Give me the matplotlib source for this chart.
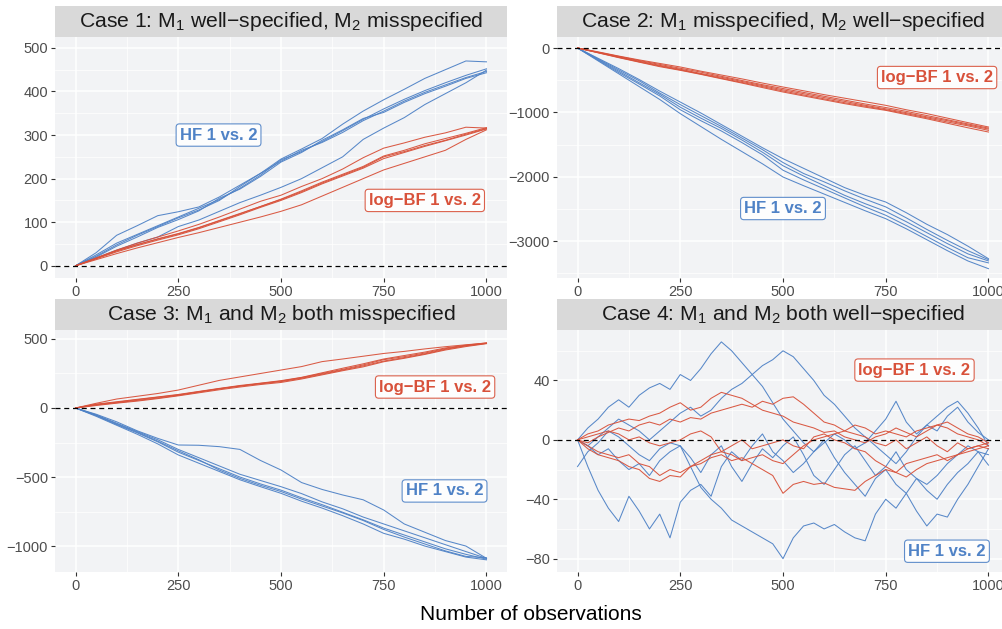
import matplotlib
matplotlib.use("Agg")
import matplotlib.pyplot as plt

plt.rcParams['font.family'] = ['Liberation Sans', 'DejaVu Sans']
plt.rcParams['mathtext.default'] = 'regular'

BLUE = '#4F82C6'
RED = '#D8513A'
PANEL_BG = '#F2F3F5'
STRIP_BG = '#D9D9D9'

obs50 = [0, 50, 100, 150, 200, 250, 300, 350, 400, 450, 500,
         550, 600, 650, 700, 750, 800, 850, 900, 950, 1000]
obs25 = [0, 25, 50, 75, 100, 125, 150, 175, 200, 225, 250, 275, 300, 325,
         350, 375, 400, 425, 450, 475, 500, 525, 550, 575, 600, 625, 650,
         675, 700, 725, 750, 775, 800, 825, 850, 875, 900, 925, 950, 975, 1000]

# Case 1
c1_hf1 = [0, 30, 70, 92, 115, 124, 135, 158, 185, 212, 245, 268, 292, 325, 355, 381, 405, 430, 450, 470, 468]
c1_hf2 = [0, 25, 52, 72, 92, 112, 132, 152, 178, 208, 243, 262, 285, 310, 336, 360, 382, 402, 420, 437, 452]
c1_hf3 = [0, 22, 48, 70, 90, 110, 128, 150, 182, 212, 240, 265, 283, 306, 333, 355, 378, 398, 415, 432, 446]
c1_hf4 = [0, 20, 45, 66, 88, 106, 126, 155, 176, 205, 238, 260, 288, 312, 338, 352, 375, 395, 412, 430, 443]
c1_hf5 = [0, 18, 36, 52, 66, 90, 105, 125, 145, 162, 180, 200, 225, 250, 290, 316, 340, 370, 395, 420, 449]
c1_bf1 = [0, 18, 36, 52, 66, 80, 95, 112, 130, 148, 162, 182, 200, 222, 248, 270, 282, 295, 305, 318, 316]
c1_bf2 = [0, 17, 34, 48, 62, 74, 88, 104, 120, 136, 152, 170, 190, 208, 226, 250, 262, 276, 288, 302, 315]
c1_bf3 = [0, 16, 32, 46, 59, 71, 85, 101, 117, 134, 150, 168, 188, 206, 224, 246, 260, 274, 287, 300, 314]
c1_bf4 = [0, 17, 35, 49, 61, 73, 87, 103, 119, 136, 153, 172, 192, 210, 228, 252, 265, 280, 292, 304, 317]
c1_bf5 = [0, 14, 28, 41, 53, 65, 76, 88, 100, 112, 125, 140, 160, 180, 200, 220, 235, 250, 265, 290, 312]

# Case 2
c2_hf1 = [0, -160, -320, -490, -670, -840, -1010, -1190, -1370, -1550, -1720, -1870, -2020, -2170, -2290, -2394, -2560, -2740, -2900, -3080, -3275]
c2_hf2 = [0, -170, -340, -510, -700, -880, -1050, -1220, -1400, -1580, -1780, -1950, -2080, -2220, -2350, -2470, -2640, -2820, -2990, -3150, -3290]
c2_hf3 = [0, -180, -360, -540, -720, -920, -1090, -1250, -1430, -1620, -1830, -1990, -2140, -2290, -2420, -2540, -2700, -2870, -3040, -3200, -3310]
c2_hf4 = [0, -190, -380, -560, -745, -960, -1130, -1290, -1470, -1660, -1900, -2050, -2190, -2330, -2470, -2600, -2760, -2930, -3100, -3260, -3340]
c2_hf5 = [0, -200, -400, -600, -800, -1020, -1220, -1420, -1610, -1800, -2005, -2140, -2270, -2400, -2530, -2653, -2810, -2980, -3150, -3310, -3430]
c2_bf1 = [0, -60, -125, -185, -240, -295, -360, -420, -480, -545, -606, -665, -725, -780, -835, -891, -960, -1020, -1090, -1160, -1228]
c2_bf2 = [0, -65, -130, -195, -255, -315, -375, -440, -505, -570, -630, -690, -750, -810, -870, -925, -985, -1050, -1115, -1180, -1245]
c2_bf3 = [0, -70, -140, -205, -270, -330, -395, -455, -520, -585, -650, -710, -770, -830, -890, -945, -1005, -1070, -1130, -1195, -1260]
c2_bf4 = [0, -72, -145, -215, -280, -340, -405, -470, -535, -600, -668, -730, -790, -850, -905, -960, -1020, -1085, -1150, -1210, -1280]
c2_bf5 = [0, -75, -150, -220, -290, -347, -410, -478, -545, -615, -684, -745, -805, -865, -920, -969, -1035, -1100, -1170, -1240, -1306]

# Case 3
c3_hf1 = [0, -45, -100, -165, -220, -268, -270, -280, -300, -380, -449, -540, -590, -630, -665, -739, -840, -900, -960, -1000, -1089]
c3_hf2 = [0, -50, -110, -170, -230, -300, -360, -420, -480, -525, -570, -620, -680, -730, -790, -840, -890, -940, -990, -1040, -1089]
c3_hf3 = [0, -55, -120, -180, -245, -320, -380, -440, -500, -550, -595, -650, -700, -755, -810, -870, -920, -970, -1020, -1060, -1095]
c3_hf4 = [0, -60, -125, -190, -260, -340, -400, -460, -520, -570, -618, -675, -725, -780, -840, -908, -950, -1000, -1040, -1080, -1100]
c3_hf5 = [0, -52, -115, -175, -240, -310, -375, -450, -510, -560, -605, -660, -710, -760, -815, -880, -935, -985, -1035, -1075, -1085]
c3_bf1 = [0, 34, 65, 85, 105, 130, 165, 200, 225, 250, 275, 300, 336, 355, 375, 395, 410, 428, 444, 458, 470]
c3_bf2 = [0, 25, 42, 60, 78, 95, 118, 140, 160, 175, 191, 215, 245, 275, 305, 340, 365, 392, 425, 450, 468]
c3_bf3 = [0, 22, 38, 55, 72, 92, 115, 138, 158, 178, 195, 220, 250, 280, 312, 350, 372, 398, 430, 452, 469]
c3_bf4 = [0, 28, 45, 63, 80, 98, 120, 142, 163, 180, 198, 222, 255, 288, 320, 355, 380, 405, 435, 455, 472]
c3_bf5 = [0, 18, 35, 50, 68, 88, 110, 132, 152, 170, 185, 210, 240, 270, 298, 335, 360, 388, 420, 445, 466]

# Case 4
c4_hf1 = [0, 8, 14, 22, 27, 22, 30, 35, 38, 34, 44, 40, 48, 58, 66, 60, 52, 44, 36, 25, 14,
          6, -2, -8, -2, 4, 0, -6, -2, 6, 14, 26, 12, 4, 10, 6, 16, 22, 12, 5, 0]
c4_hf2 = [0, -4, 2, 8, 14, 10, 6, 0, 6, 12, 18, 22, 16, 20, 28, 34, 38, 44, 50, 54, 60,
          56, 48, 40, 30, 24, 16, 8, 2, -4, -10, -16, -8, 2, 10, 16, 22, 26, 18, 8, -4]
c4_hf3 = [-18, -8, -2, 6, 2, -4, -10, -14, -6, -2, -4, -12, -22, -10, -4, -18, -28, -16, -6, -12, -4,
          2, -10, -24, -30, -20, -10, -4, -14, -24, -18, -8, -20, -26, -30, -24, -16, -10, -4, -8, -17]
c4_hf4 = [0, -18, -34, -46, -55, -38, -48, -60, -50, -66, -42, -34, -30, -38, -18, -8, -14, -4, 4, -8, -14,
          -22, -16, -8, 0, -12, -22, -30, -38, -26, -20, -30, -36, -26, -34, -40, -30, -22, -16, -8, -10]
c4_hf5 = [0, -4, -10, -6, -14, -20, -16, -24, -14, -8, -4, -18, -32, -40, -46, -54, -58, -62, -66, -70, -80,
          -66, -58, -56, -60, -57, -62, -66, -68, -50, -40, -46, -36, -48, -58, -50, -52, -40, -30, -18, -6]
c4_bf1 = [0, 4, 6, 10, 12, 14, 13, 16, 18, 22, 25, 20, 22, 28, 32, 30, 28, 24, 20, 18, 16,
          12, 10, 8, 5, 6, 2, 0, -2, 2, 4, 8, 5, 2, 6, 10, 8, 4, 2, 0, -4]
c4_bf2 = [0, -2, 2, 5, 8, 6, 10, 12, 10, 14, 12, 15, 14, 18, 20, 22, 24, 22, 26, 24, 28,
          29, 24, 18, 12, 10, 6, 4, 2, -2, -4, 0, -6, -2, 2, -4, -8, -2, -6, -4, -6]
c4_bf3 = [0, -4, -8, -10, -12, -10, -16, -18, -24, -20, -22, -18, -16, -12, -10, -14, -12, -16, -20, -24, -36,
          -30, -28, -30, -29, -32, -33, -34, -28, -24, -20, -22, -16, -14, -12, -10, -14, -10, -8, -6, -4]
c4_bf4 = [0, -6, -10, -12, -14, -18, -20, -26, -28, -24, -25, -18, -14, -10, -8, -4, 0, -6, -4, -2, 0,
          -4, -6, 2, 4, 0, -2, -6, -8, -14, -18, -22, -25, -20, -16, -14, -12, -10, -6, -4, -2]
c4_bf5 = [0, 2, 4, 6, 4, 0, 2, -2, -4, -2, 0, 4, 6, 2, -8, -10, -14, -12, -10, -14, -16,
          -10, -4, 0, 2, 4, 6, 10, 8, 4, 6, 4, 2, 6, 8, 10, 12, 8, 4, 2, -2]

titles = [r"Case 1: M$_1$ well−specified, M$_2$ misspecified",
          r"Case 2: M$_1$ misspecified, M$_2$ well−specified",
          r"Case 3: M$_1$ and M$_2$ both misspecified",
          r"Case 4: M$_1$ and M$_2$ both well−specified"]

W, H = 1003, 629


def px_rect(x0, y0, x1, y1):
    return [x0 / W, 1 - y1 / H, (x1 - x0) / W, (y1 - y0) / H]


def draw_panel(fig, box, title, xs, hf, bf, ylim, yticks, yminor, hf_pos, bf_pos):
    x0, y0, x1, y1 = box
    ax = fig.add_axes(px_rect(x0, y0, x1, y1))
    ax.set_facecolor(PANEL_BG)
    for y in hf:
        ax.plot(xs, y, color=BLUE, lw=0.75, alpha=0.95)
    for y in bf:
        ax.plot(xs, y, color=RED, lw=0.75, alpha=0.95)
    ax.axhline(0, color='black', ls=(0, (4, 3)), lw=0.9, zorder=5)
    ax.set_xlim(-50, 1050)
    ax.set_ylim(*ylim)
    ax.set_xticks([0, 250, 500, 750, 1000])
    ax.set_xticks([125, 375, 625, 875], minor=True)
    ax.set_yticks(yticks)
    ax.set_yticks(yminor, minor=True)
    ax.grid(which='major', color='white', lw=1.1)
    ax.grid(which='minor', color='white', lw=0.5)
    ax.set_axisbelow(True)
    for s in ax.spines.values():
        s.set_visible(False)
    ax.tick_params(which='major', length=3, color='#333333', labelsize=10.5,
                   labelcolor='#4D4D4D', pad=2)
    ax.tick_params(which='minor', length=0)

    ax.text(hf_pos[0], hf_pos[1], 'HF 1 vs. 2', color=BLUE, fontsize=12,
            fontweight='bold', ha='center', va='center', zorder=6,
            bbox=dict(boxstyle='round,pad=0.22,rounding_size=0.2', fc='white',
                      ec=BLUE, lw=0.8, alpha=0.9))
    ax.text(bf_pos[0], bf_pos[1], 'log−BF 1 vs. 2', color=RED, fontsize=12,
            fontweight='bold', ha='center', va='center', zorder=6,
            bbox=dict(boxstyle='round,pad=0.22,rounding_size=0.2', fc='white',
                      ec=RED, lw=0.8, alpha=0.9))

    strip = fig.add_axes(px_rect(x0, y0 - 31, x1, y0))
    strip.set_facecolor(STRIP_BG)
    strip.set_xticks([])
    strip.set_yticks([])
    for s in strip.spines.values():
        s.set_visible(False)
    strip.text(0.5, 0.5, title, ha='center', va='center', fontsize=15.2,
               color='#1A1A1A', transform=strip.transAxes)
    return ax


fig = plt.figure(figsize=(W / 100, H / 100), dpi=100)

draw_panel(fig, (55, 37, 507, 278), titles[0], obs50,
           [c1_hf1, c1_hf2, c1_hf3, c1_hf4, c1_hf5],
           [c1_bf1, c1_bf2, c1_bf3, c1_bf4, c1_bf5],
           (-28, 525), [0, 100, 200, 300, 400, 500], [50, 150, 250, 350, 450],
           (348, 300), (850, 150))
draw_panel(fig, (557, 37, 1009, 278), titles[1], obs50,
           [c2_hf1, c2_hf2, c2_hf3, c2_hf4, c2_hf5],
           [c2_bf1, c2_bf2, c2_bf3, c2_bf4, c2_bf5],
           (-3575, 171), [0, -1000, -2000, -3000], [-500, -1500, -2500, -3500],
           (500, -2495), (875, -459))
draw_panel(fig, (55, 330, 507, 572), titles[2], obs50,
           [c3_hf1, c3_hf2, c3_hf3, c3_hf4, c3_hf5],
           [c3_bf1, c3_bf2, c3_bf3, c3_bf4, c3_bf5],
           (-1188, 565), [500, 0, -500, -1000], [250, -250, -750],
           (898, -601), (875, 152))
draw_panel(fig, (557, 330, 1009, 572), titles[3], obs25,
           [c4_hf1, c4_hf2, c4_hf3, c4_hf4, c4_hf5],
           [c4_bf1, c4_bf2, c4_bf3, c4_bf4, c4_bf5],
           (-89, 74), [40, 0, -40, -80], [60, 20, -20, -60],
           (899, -75), (820, 47))

fig.text(531 / W, 1 - 615 / H, 'Number of observations', ha='center',
         va='center', fontsize=15, color='black')

fig.savefig('out.png', dpi=100)
